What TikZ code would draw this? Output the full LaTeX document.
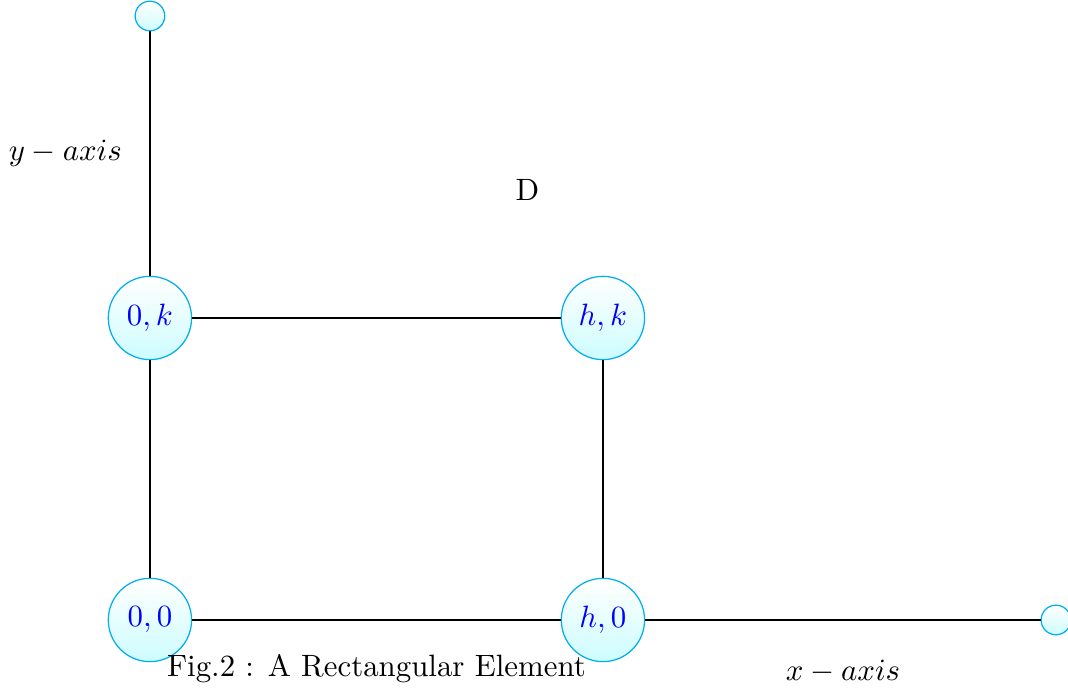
\documentclass[tikz,border=0pt]{standalone}
\usepackage{tikz}
\usepackage{xcolor}
\usetikzlibrary{positioning,calc}
\definecolor{rimcyan}{RGB}{0,174,239}
\definecolor{fillcyan}{RGB}{205,252,255}
\tikzset{
  vertex/.style={circle, draw=rimcyan, top color=white, bottom color=fillcyan, minimum size=27pt, inner sep=0pt, text=blue},
  endpt/.style={circle, draw=rimcyan, top color=white, bottom color=fillcyan, minimum size=9.6pt, inner sep=0pt},
  edge/.style={draw, black}
}
\begin{document}
\begin{tikzpicture}[x=1.72cm, y=1.72cm]
    \useasboundingbox (-0.993,-0.457) rectangle (6.08,4.106);
    \node[vertex] (n00) at (0,0) {$0,0$};
    \node[vertex] (nh0) at (3,0) {$h,0$};
    \node[vertex] (n0k) at (0,2) {$0,k$};
    \node[vertex] (nhk) at (3,2) {$h,k$};
    \node[endpt] (ytop) at (0,4) {};
    \node[endpt] (xend) at (6,0) {};
    \draw[edge] (n00) -- (nh0);
    \draw[edge] (n00) -- (n0k);
    \draw[edge] (n0k) -- (nhk);
    \draw[edge] (nh0) -- (nhk);
    \draw[edge] (n0k) -- (ytop);
    \draw[edge] (nh0) -- (xend);
    \node (ylab) at (-0.56,3.09) {$y-axis$};
    \node (xlab) at (4.59,-0.34) {$x-axis$};
    \node (dlab) at (2.5,2.85) {D};
    \node (cap) at (1.5,-0.32) {Fig.2 : A Rectangular Element};
  \end{tikzpicture}
\end{document}
